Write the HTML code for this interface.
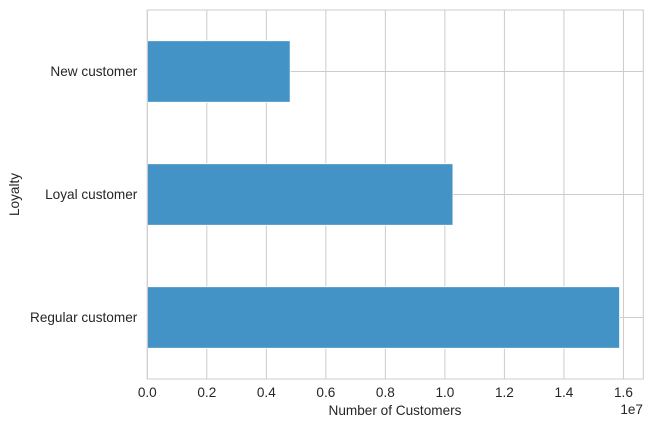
<!DOCTYPE html>
<html><head><meta charset="utf-8"><style>
body{margin:0;background:#fff;font-family:"Liberation Sans",sans-serif;}
svg text{font-family:"Liberation Sans",sans-serif;fill:#262626;}
</style></head><body>
<svg id="c" width="653" height="428"></svg>
<script>
const categories=["Regular customer","Loyal customer","New customer"];
const values=[15870000,10270000,4800000];
const xTicks=[0,0.2,0.4,0.6,0.8,1.0,1.2,1.4,1.6];
const L=147.3,R=643.3,T=10,B=379,XMAX=1.6667e7;
const NS="http://www.w3.org/2000/svg";
const svg=document.getElementById('c');
function x(v){return L+(v/XMAX)*(R-L);}
function y(i){return B-(i+0.5)*(B-T)/categories.length;}
const band=(B-T)/categories.length;
function mk(t,a,p){const e=document.createElementNS(NS,t);for(const k in a)e.setAttribute(k,a[k]);(p||svg).appendChild(e);return e;}
const g=mk('g',{});


xTicks.forEach(t=>{const l=mk('line',{x1:x(t*1e7),x2:x(t*1e7),y1:T,y2:B,stroke:'#cccccc','stroke-width':1},g);

});
categories.forEach((c,i)=>{const l=mk('line',{x1:L,x2:R,y1:y(i),y2:y(i),stroke:'#cccccc','stroke-width':1},g);

});
categories.forEach((c,i)=>{
const r=mk('rect',{x:L,y:y(i)-band/4,width:x(values[i])-L,height:band/2,fill:'#4393c6',stroke:'#ffffff','stroke-width':0.8});


const tx=mk('text',{x:L-10,y:y(i)+4.5,'text-anchor':'end','font-size':13.6});
tx.textContent=c;


});
const fr=mk('rect',{x:L,y:T,width:R-L,height:B-T,fill:'none',stroke:'#cccccc','stroke-width':1});


xTicks.forEach(t=>{const tx=mk('text',{x:x(t*1e7),y:397,'text-anchor':'middle','font-size':13.6});
tx.textContent=t.toFixed(1);

});
let e=mk('text',{x:643,y:414,'text-anchor':'end','font-size':13.6});e.textContent='1e7';


e=mk('text',{x:395,y:415,'text-anchor':'middle','font-size':13.6});e.textContent='Number of Customers';


e=mk('text',{x:19,y:194.5,'text-anchor':'middle','font-size':13.6,transform:'rotate(-90 19 194.5)'});e.textContent='Loyalty';


</script>
</body></html>
